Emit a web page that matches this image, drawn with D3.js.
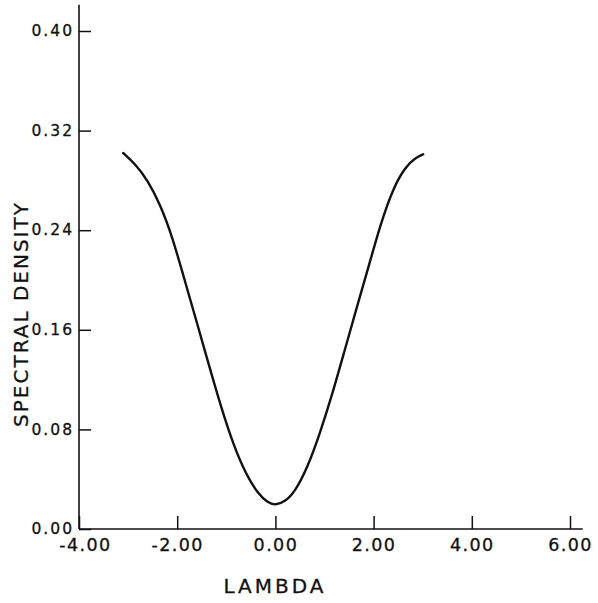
<!DOCTYPE html>
<html>
<head>
<meta charset="utf-8">
<script src="https://cdn.jsdelivr.net/npm/d3@7"></script>
<style>
  html, body { margin: 0; padding: 0; background: #fff; }
  svg { display: block; }
  text { font-family: "DejaVu Sans", sans-serif; fill: #111; }
</style>
</head>
<body>
<svg id="chart" width="598" height="603"></svg>
<script>
// ---- data ----
const lambda = [-3.10, -2.85, -2.60, -2.35, -2.10, -1.85, -1.60, -1.35, -1.10, -0.85, -0.60, -0.35, -0.15, 0.00, 0.20, 0.40, 0.65, 0.90, 1.15, 1.40, 1.65, 1.90, 2.15, 2.40, 2.65, 2.85, 3.01];
const density = [0.302, 0.293, 0.280, 0.261, 0.235, 0.200, 0.166, 0.131, 0.097, 0.067, 0.044, 0.028, 0.021, 0.019, 0.022, 0.030, 0.049, 0.076, 0.107, 0.142, 0.177, 0.211, 0.246, 0.274, 0.291, 0.298, 0.301];
const xTicks = [-4, -2, 0, 2, 4, 6];
const xTickLabels = ["-4.00", "-2.00", "0.00", "2.00", "4.00", "6.00"];
const yTicks = [0, 0.08, 0.16, 0.24, 0.32, 0.40];
const yTickLabels = ["0.00", "0.08", "0.16", "0.24", "0.32", "0.40"];
const xTitle = "LAMBDA";
const yTitle = "SPECTRAL DENSITY";

const svg = d3.select("#chart");
const x = d3.scaleLinear().domain([-4, 6]).range([79, 570]);
const y = d3.scaleLinear().domain([0, 0.40]).range([529, 31]);
const xAxisEnd = 6.26, yAxisEnd = 0.421;

// axis lines
svg.append("line")
  .attr("x1", x(-4)).attr("x2", x(-4))
  .attr("y1", y(0)).attr("y2", y(yAxisEnd))
  .attr("stroke", "#111").attr("stroke-width", 1.6);
svg.append("line")
  .attr("x1", x(-4)).attr("x2", x(xAxisEnd))
  .attr("y1", y(0)).attr("y2", y(0))
  .attr("stroke", "#111").attr("stroke-width", 1.6);

// y axis ticks (pointing inward)
const yAxis = d3.axisLeft(y)
  .tickValues(yTicks)
  .tickFormat((d, i) => yTickLabels[i])
  .tickSizeInner(-12).tickSizeOuter(0).tickPadding(5);
const gy = svg.append("g").attr("transform", `translate(${x(-4)},0)`).call(yAxis);
gy.attr("font-size", null).attr("font-family", null);
gy.select(".domain").remove();
gy.selectAll(".tick line").attr("stroke", "#111").attr("stroke-width", 1.5);
gy.selectAll(".tick text")
  .style("font-size", "15.5px").attr("letter-spacing", 2)
  .style("font-family", "DejaVu Sans, sans-serif").attr("fill", "#111")
  .attr("stroke", "#111").attr("stroke-width", 0.3)
  .attr("dy", "0.3em");

// x axis ticks (pointing inward / upward)
const xAxis = d3.axisBottom(x)
  .tickValues(xTicks)
  .tickFormat((d, i) => xTickLabels[i])
  .tickSizeInner(-13).tickSizeOuter(0).tickPadding(10);
const gx = svg.append("g").attr("transform", `translate(0,${y(0)})`).call(xAxis);
gx.attr("font-size", null).attr("font-family", null);
gx.select(".domain").remove();
gx.selectAll(".tick line").attr("stroke", "#111").attr("stroke-width", 1.5);
gx.selectAll(".tick text")
  .style("font-size", "17.5px").attr("letter-spacing", 1.4)
  .style("font-family", "DejaVu Sans, sans-serif").attr("fill", "#111")
  .attr("stroke", "#111").attr("stroke-width", 0.3)
  .attr("dx", (d) => d === -4 ? 6 : 0);

// curve
const pts = lambda.map((l, i) => [l, density[i]]);
const line = d3.line()
  .x(d => x(d[0])).y(d => y(d[1]))
  .curve(d3.curveBasis);
svg.append("path")
  .datum(pts)
  .attr("d", line)
  .attr("fill", "none")
  .attr("stroke", "#111")
  .attr("stroke-width", 2.4)
  .attr("stroke-linecap", "round");

// titles
svg.append("text")
  .attr("x", 275).attr("y", 593)
  .attr("text-anchor", "middle")
  .style("font-size", "20px").attr("letter-spacing", 3)
  .attr("stroke", "#111").attr("stroke-width", 0.3)
  .text(xTitle);
svg.append("text")
  .attr("transform", "translate(28,314) rotate(-90)")
  .attr("text-anchor", "middle")
  .style("font-size", "20px").attr("letter-spacing", 2)
  .attr("stroke", "#111").attr("stroke-width", 0.3)
  .text(yTitle);
</script>
</body>
</html>
